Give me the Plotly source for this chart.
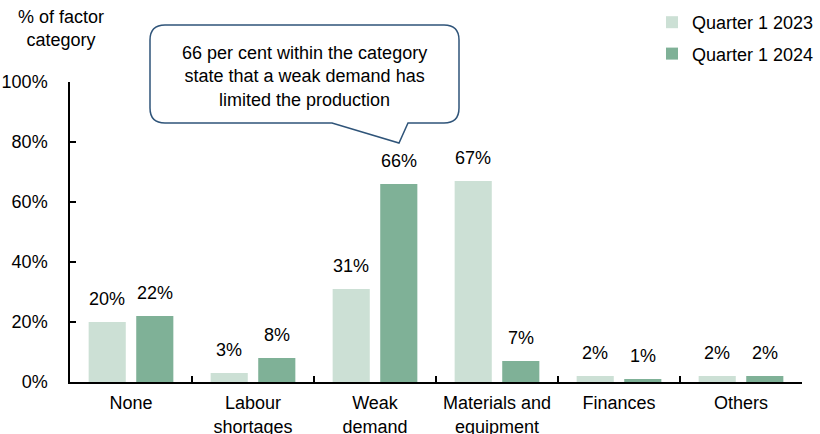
import plotly.graph_objects as go

categories = ["None", "Labour<br>shortages", "Weak<br>demand",
              "Materials and<br>equipment", "Finances", "Others"]
q1_2023 = [20, 3, 31, 67, 2, 2]
q1_2024 = [22, 8, 66, 7, 1, 2]
series_names = ["Quarter 1 2023", "Quarter 1 2024"]
colors = ["#cce0d5", "#7fb197"]
y_ticks = [0, 20, 40, 60, 80, 100]
callout_text = ("66 per cent within the category<br>state that a weak demand has"
                "<br>limited the production")

FONT = "Liberation Sans, Arial, sans-serif"
FS = 18
W, H = 820, 434
L, R, T, B = 70, 18, 82, 52
BARGAP, GROUPGAP = 0.22, 0.22

fig = go.Figure()
for name, vals, col in zip(series_names, [q1_2023, q1_2024], colors):
    fig.add_trace(go.Bar(
        x=categories, y=vals, name=name, marker_color=col,
        marker_line_width=0, legendgroup=name,
    ))

# value labels above each bar
pw = W - L - R
slot = pw / len(categories)
group_w = slot * (1 - BARGAP)
offsets = [-group_w / 4, group_w / 4]
annotations = []
for vals, dx in zip([q1_2023, q1_2024], offsets):
    for c, v in zip(categories, vals):
        annotations.append(dict(
            x=c, y=v, xref="x", yref="y", text=f"{v}%", showarrow=False,
            xshift=dx, yshift=23, yanchor="middle",
            font=dict(family=FONT, size=FS, color="#000000"),
        ))

# helpers to place the callout in pixel units
def px(X):
    return (X - L) / pw

def py(Y):
    return (H - B - Y) / (H - T - B)

x0, x1, y0, y1, r = 150, 459, 25, 123, 15
tail_l, tail_r, tip = 332, 408, (399, 143)
path = (
    f"M {px(x0 + r)},{py(y0)} L {px(x1 - r)},{py(y0)} "
    f"Q {px(x1)},{py(y0)} {px(x1)},{py(y0 + r)} "
    f"L {px(x1)},{py(y1 - r)} "
    f"Q {px(x1)},{py(y1)} {px(x1 - r)},{py(y1)} "
    f"L {px(tail_r)},{py(y1)} L {px(tip[0])},{py(tip[1])} "
    f"L {px(tail_l)},{py(y1)} "
    f"L {px(x0 + r)},{py(y1)} "
    f"Q {px(x0)},{py(y1)} {px(x0)},{py(y1 - r)} "
    f"L {px(x0)},{py(y0 + r)} "
    f"Q {px(x0)},{py(y0)} {px(x0 + r)},{py(y0)} Z"
)
shapes = [dict(type="path", xref="paper", yref="paper", path=path,
               line=dict(color="#2f5479", width=1.5), fillcolor="white",
               layer="above")]

annotations.append(dict(
    x=px((x0 + x1) / 2), y=py(76), xref="paper", yref="paper",
    text=callout_text, showarrow=False, align="center",
    font=dict(family=FONT, size=FS, color="#000000"),
    xanchor="center", yanchor="middle",
))
annotations.append(dict(
    x=px(61), y=py(29), xref="paper", yref="paper",
    text="% of factor<br>category", showarrow=False, align="center",
    font=dict(family=FONT, size=FS, color="#000000"),
    xanchor="center", yanchor="middle",
))

fig.update_layout(
    width=W, height=H,
    margin=dict(l=L, r=R, t=T, b=B, pad=0, autoexpand=False),
    paper_bgcolor="white", plot_bgcolor="white",
    barmode="group", bargap=BARGAP, bargroupgap=GROUPGAP,
    font=dict(family=FONT, size=FS, color="#000000"),
    showlegend=True,
    legend=dict(
        x=px(652), y=py(4), xref="paper", yref="paper",
        xanchor="left", yanchor="top",
        font=dict(family=FONT, size=FS, color="#000000"),
        bgcolor="rgba(0,0,0,0)", traceorder="grouped", tracegroupgap=5,
        itemwidth=30,
    ),
    xaxis=dict(
        showline=True, linecolor="#000000", linewidth=1.5,
        ticks="inside", ticklen=6, tickcolor="#000000", tickwidth=1.5,
        tickson="boundaries", showgrid=False, zeroline=False,
        automargin=False, ticklabelstandoff=4,
        tickfont=dict(family=FONT, size=FS, color="#000000"),
    ),
    yaxis=dict(
        range=[0, 100], tickvals=y_ticks,
        ticktext=[f"{t}%" for t in y_ticks],
        showline=True, linecolor="#000000", linewidth=1.5,
        ticks="inside", ticklen=6, tickcolor="#000000", tickwidth=1.5,
        showgrid=False, zeroline=False, ticklabelstandoff=17,
        automargin=False,
        tickfont=dict(family=FONT, size=FS, color="#000000"),
    ),
    shapes=shapes,
    annotations=annotations,
)

fig.write_html("out.html")
